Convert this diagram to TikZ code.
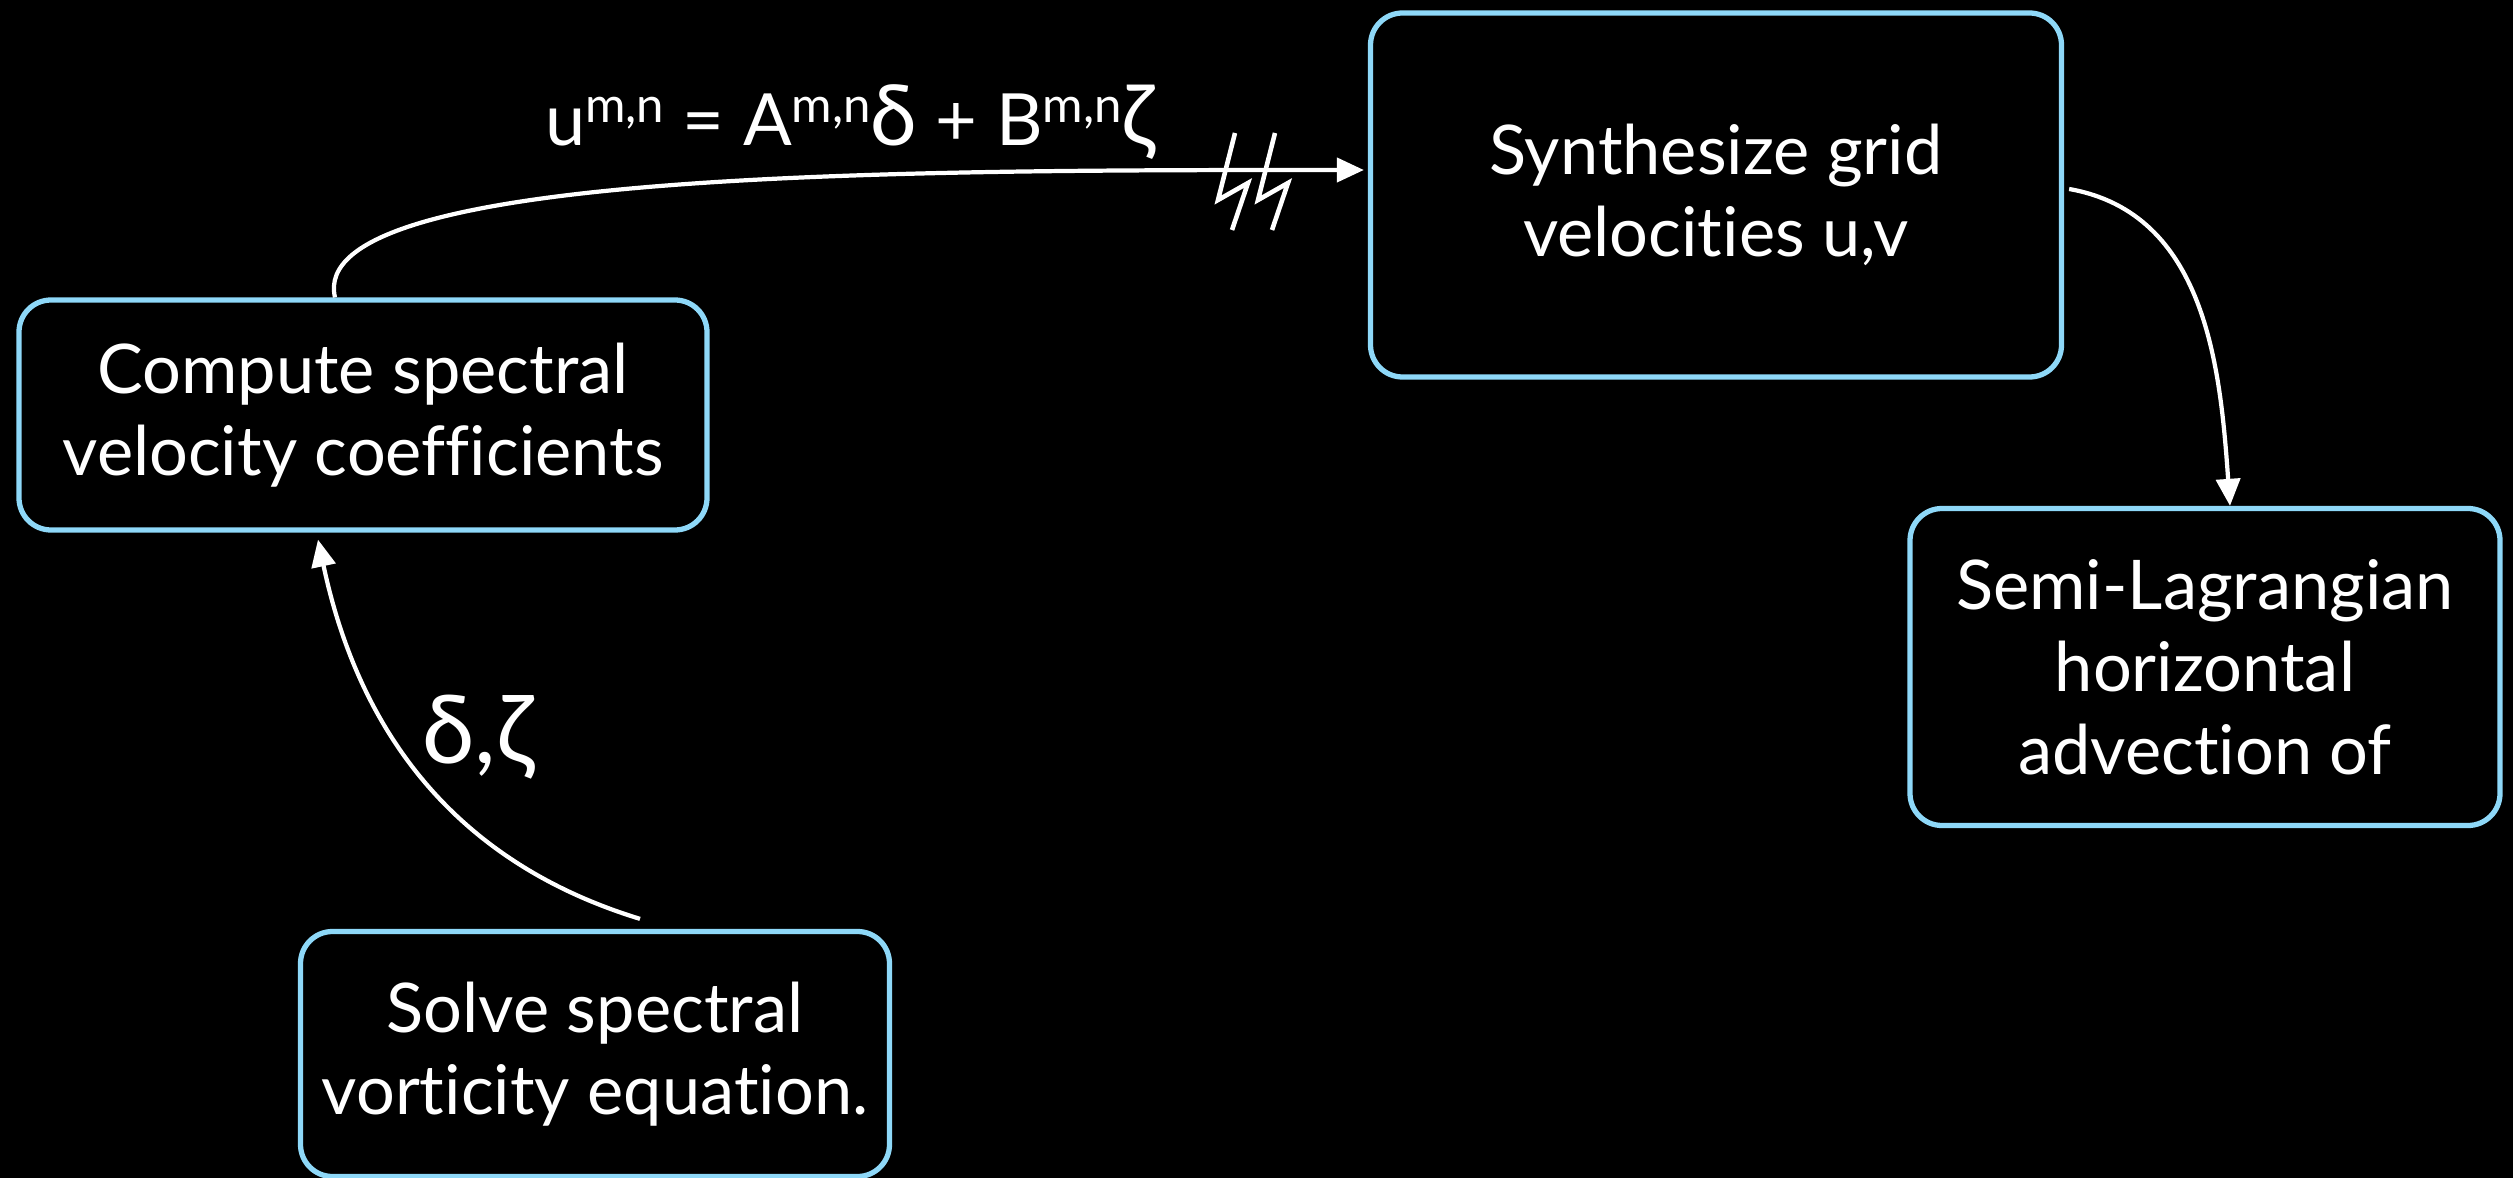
\documentclass[tikz,border=0pt]{standalone}
\usepackage{fontspec}
\setmainfont{Lato}[Ligatures=NoCommon]
\usetikzlibrary{positioning,arrows.meta}

\definecolor{boxblue}{HTML}{8ED8F8}
\newcommand{\upidx}[1]{\raisebox{0.62ex}{\fontsize{14}{14}\selectfont #1}}

\begin{document}
\begin{tikzpicture}[
    node distance=4cm,
    stepbox/.style={rectangle, rounded corners=3.2mm, draw=boxblue, line width=1.5pt, fill=black, text=white, align=center, font=\fontsize{19.5}{23.5}\selectfont},
    arrow/.style={-{Triangle[length=2.7mm,width=2.4mm]}, draw=white, line width=1.2pt},
    lbl/.style={text=white, font=\fontsize{20.5}{24}\selectfont}
]

% Hintergrund
\fill[black] (0,0) rectangle (25.13,-11.78);
\useasboundingbox (0,0) rectangle (25.13,-11.78);

% Kaesten
\node[stepbox, minimum width=6.88cm, minimum height=2.30cm] (compute) at (3.63,-4.15) {Compute spectral\\velocity coefficients};
\node[stepbox, minimum width=6.91cm, minimum height=3.64cm, right of=compute, xshift=9.53cm, yshift=2.20cm] (synth) {Synthesize grid\\velocities u,v};
\node[stepbox, minimum width=5.90cm, minimum height=3.17cm, below of=synth, xshift=4.89cm, yshift=-0.72cm] (semi) {Semi-Lagrangian\\horizontal\\advection of};
\node[stepbox, minimum width=5.89cm, minimum height=2.45cm, below of=compute, xshift=2.32cm, yshift=-2.39cm] (solve) {Solve spectral\\vorticity equation.};

% Beschriftungen
\node[lbl] (eqn) at (8.50,-1.22) {u\upidx{m,n} = A\upidx{m,n}{\fontsize{24}{24}\selectfont δ} + B\upidx{m,n}{\fontsize{24}{24}\selectfont ζ}};
\node[lbl, font=\fontsize{27}{30}\selectfont] (dz) at (4.78,-7.37) {δ,ζ};

% Pfeile
\draw[arrow] ([xshift=-0.28cm]compute.north) .. controls (3.05,-1.70) and (9.0,-1.70) .. ([yshift=0.25cm, xshift=-0.04cm]synth.west);
\draw[arrow] ([yshift=0.06cm, xshift=0.05cm]synth.east) to[out=-10, in=94] ([xshift=0.25cm]semi.north);
\draw[arrow] ([xshift=0.45cm, yshift=0.10cm]solve.north) to[out=163, in=-78] ([xshift=-0.45cm, yshift=-0.07cm]compute.south);

% Unterbrechung
\coordinate (brk) at (12.35,-1.70);
\foreach \dx in {0,0.40}
  \draw[white, line width=1.3pt] ([xshift=\dx cm]brk) ++(0,0.37) -- ++(-0.17,-0.67) -- ++(0.30,0.17) -- ++(-0.16,-0.47);

\end{tikzpicture}
\end{document}
